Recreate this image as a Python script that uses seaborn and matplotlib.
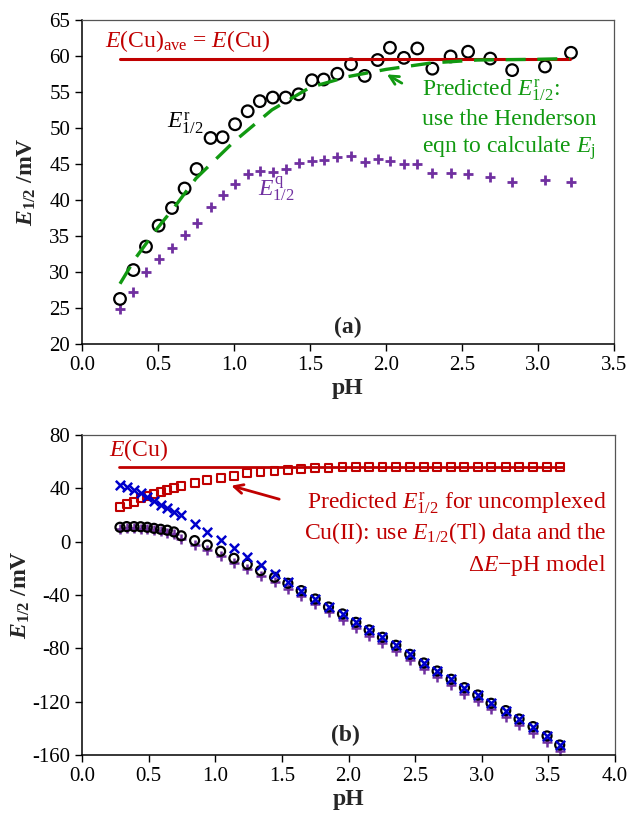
import matplotlib
matplotlib.use("Agg")
import matplotlib.pyplot as plt
import seaborn as sns
import numpy as np
import pandas as pd

# ---------------- Panel (a) data ----------------
ph_a = [0.25, 0.338, 0.421, 0.504, 0.592, 0.675, 0.754, 0.846, 0.925, 1.007,
        1.09, 1.17, 1.255, 1.34, 1.425, 1.513, 1.59, 1.68, 1.77, 1.86,
        1.945, 2.026, 2.118, 2.206, 2.305, 2.425, 2.54, 2.686, 2.83, 3.046, 3.217]
er_a = [26.3, 30.3, 33.55, 36.45, 38.9, 41.6, 44.3, 48.6, 48.7, 50.5,
        52.3, 53.7, 54.2, 54.2, 54.65, 56.6, 56.7, 57.5, 58.8, 57.2,
        59.4, 61.1, 59.7, 61.0, 58.2, 59.9, 60.55, 59.6, 58.0, 58.5, 60.4]
eq_a = [24.9, 27.2, 30.0, 31.9, 33.3, 35.1, 36.8, 39.0, 40.7, 42.2,
        43.6, 44.0, 43.9, 44.35, 45.1, 45.45, 45.5, 45.9, 46.05, 45.3,
        45.7, 45.45, 44.95, 44.95, 43.7, 43.8, 43.6, 43.25, 42.55, 42.8, 42.55]
ecu_a_ph = [0.25, 3.21]
ecu_a_val = [59.6, 59.6]
pred_a_ph = [0.25, 0.35, 0.5, 0.6, 0.75, 1.0, 1.25, 1.5, 1.75, 2.0, 2.3, 2.6, 3.0, 3.21]
pred_a_val = [28.4, 31.9, 36.2, 38.8, 43.0, 48.1, 52.5, 55.6, 57.1, 58.1, 59.0, 59.4, 59.5, 59.6]

# ---------------- Panel (b) data ----------------
ph_b = [0.285, 0.335, 0.39, 0.44, 0.49, 0.54, 0.59, 0.64, 0.69, 0.745,
        0.845, 0.94, 1.04, 1.14, 1.24, 1.34, 1.445, 1.545, 1.645, 1.75,
        1.85, 1.955, 2.055, 2.155, 2.255, 2.355, 2.46, 2.565, 2.665, 2.77,
        2.87, 2.97, 3.07, 3.18, 3.28, 3.385, 3.49, 3.585]
er_b = [10.8, 11.3, 11.3, 11.2, 10.8, 10.0, 9.3, 8.6, 7.3, 4.4,
        0.8, -2.5, -7.2, -12.5, -17.0, -21.7, -26.7, -31.2, -36.7, -43.0,
        -49.0, -54.2, -60.5, -66.2, -71.7, -77.7, -84.5, -91.0, -97.0, -103.2,
        -109.5, -115.0, -121.2, -126.7, -133.0, -138.7, -145.7, -152.5]
eq_b = [9.5, 10.0, 10.0, 9.8, 9.3, 8.5, 7.7, 6.8, 5.5, 2.3,
        -2.5, -6.0, -10.5, -16.0, -20.5, -25.5, -30.5, -35.2, -40.7, -47.0,
        -53.0, -58.5, -64.8, -70.5, -76.0, -82.0, -89.0, -95.5, -101.5, -107.7,
        -114.0, -119.5, -125.7, -131.2, -137.5, -143.2, -150.2, -157.0]
etl_b = [42.5, 40.8, 38.5, 36.3, 33.5, 30.8, 27.8, 25.0, 22.5, 19.8,
         13.0, 7.5, 1.3, -5.0, -11.2, -17.5, -24.0, -30.5, -37.0, -42.8,
         -49.0, -54.2, -60.5, -66.2, -71.7, -77.7, -84.5, -91.0, -97.0, -103.2,
         -109.5, -115.0, -121.2, -126.7, -133.0, -138.7, -145.7, -152.5]
pred_b = [25.8, 28.3, 30.0, 32.5, 34.3, 35.8, 37.5, 38.8, 40.0, 41.8,
          43.8, 46.0, 48.0, 49.5, 51.3, 52.5, 53.3, 54.0, 54.5, 55.0,
          55.3, 55.7, 56.0, 56.0, 56.0, 56.2, 56.2, 56.2, 56.2, 56.2,
          56.2, 56.2, 56.2, 56.2, 56.2, 56.2, 56.2, 56.2]
ecu_b_ph = [0.28, 3.61]
ecu_b_val = [56.25, 56.25]

xticks_a = [0.0, 0.5, 1.0, 1.5, 2.0, 2.5, 3.0, 3.5]
yticks_a = [20, 25, 30, 35, 40, 45, 50, 55, 60, 65]
xticks_b = [0.0, 0.5, 1.0, 1.5, 2.0, 2.5, 3.0, 3.5, 4.0]
yticks_b = [-160, -120, -80, -40, 0, 40, 80]

RED = "#C00000"
GREEN = "#119911"
PURPLE = "#7030A0"
BLUE = "#0000CC"

sns.set_theme(style="ticks")
plt.rcParams["font.family"] = ["Liberation Serif", "DejaVu Serif"]
plt.rcParams["mathtext.fontset"] = "custom"
plt.rcParams["mathtext.rm"] = "Liberation Serif"
plt.rcParams["mathtext.it"] = "Liberation Serif:italic"
plt.rcParams["mathtext.bf"] = "Liberation Serif:bold"
plt.rcParams["mathtext.bfit"] = "Liberation Serif:bold:italic"
plt.rcParams["mathtext.sf"] = "Liberation Serif"
plt.rcParams["xtick.direction"] = "out"
plt.rcParams["ytick.direction"] = "out"

fig = plt.figure(figsize=(6.29, 8.23), dpi=100)
W, H = 629, 823
ax1 = fig.add_axes([82 / W, 1 - 344.4 / H, (614 - 82) / W, (344.4 - 19.6) / H])
ax2 = fig.add_axes([82 / W, 1 - 755 / H, (615 - 82) / W, (755 - 435) / H])

TICKFS = 15
TXTFS = 17

def style_axes(ax):
    for s in ["left", "bottom"]:
        ax.spines[s].set_color("black")
        ax.spines[s].set_linewidth(1.1)
    for s in ["top", "right"]:
        ax.spines[s].set_color("#555555")
        ax.spines[s].set_linewidth(0.9)
        ax.spines[s].set_visible(True)
    ax.tick_params(axis="both", labelsize=TICKFS, length=5, width=1, colors="black")
    ax.grid(False)

# ---------- Panel (a) ----------
sns.lineplot(x=ecu_a_ph, y=ecu_a_val, ax=ax1, color=RED, lw=2.2)
sns.lineplot(x=pred_a_ph, y=pred_a_val, ax=ax1, color=GREEN, lw=2.4,
             dashes=False, linestyle=(0, (6, 3.5)))
sns.scatterplot(x=ph_a, y=eq_a, ax=ax1, marker="+", s=55, color=PURPLE, linewidth=2.0)
sns.scatterplot(x=ph_a, y=er_a, ax=ax1, marker="o", s=70, facecolors="none",
                edgecolor="black", linewidth=1.6)

ax1.set_xlim(0, 3.5)
ax1.set_ylim(20, 65)
ax1.set_xticks(xticks_a)
ax1.set_xticklabels([f"{v:.1f}" for v in xticks_a])
ax1.set_yticks(yticks_a)
ax1.set_yticklabels([str(v) for v in yticks_a])
style_axes(ax1)
ax1.set_xlabel("pH", fontsize=17, fontweight="bold", labelpad=2)
ax1.set_ylabel(r"$\mathbfit{E}_{\mathbf{1/2}}$ /mV", fontsize=17, fontweight="bold", labelpad=8)

ax1.text(0.15, 62.0, r"$E$(Cu)$_{\mathrm{ave}}$ = $E$(Cu)", color=RED, fontsize=TXTFS,
         ha="left", va="center")
ax1.text(0.56, 50.6, r"$E^{\mathrm{r}}_{1/2}$", color="black", fontsize=TXTFS,
         ha="left", va="center")
ax1.text(1.16, 41.5, r"$E^{\mathrm{q}}_{1/2}$", color=PURPLE, fontsize=TXTFS,
         ha="left", va="center")
ax1.text(2.235, 55.2, r"Predicted $E^{\mathrm{r}}_{1/2}$:", color=GREEN, fontsize=TXTFS,
         ha="left", va="center")
ax1.text(2.235, 51.1, "use the Henderson", color=GREEN, fontsize=TXTFS,
         ha="left", va="center")
ax1.text(2.235, 47.2, r"eqn to calculate $E_{\mathrm{j}}$", color=GREEN, fontsize=TXTFS,
         ha="left", va="center")
ax1.annotate("", xy=(1.99, 57.6), xytext=(2.12, 56.0),
             arrowprops=dict(arrowstyle="->", color=GREEN, lw=2, mutation_scale=16))
ax1.text(1.75, 22.3, "(a)", fontsize=17, fontweight="bold", ha="center", va="center")

# ---------- Panel (b) ----------
sns.lineplot(x=ecu_b_ph, y=ecu_b_val, ax=ax2, color=RED, lw=2.0)
sns.scatterplot(x=ph_b, y=pred_b, ax=ax2, marker="s", s=32, facecolors="none",
                edgecolor=RED, linewidth=1.5)
sns.scatterplot(x=ph_b, y=eq_b, ax=ax2, marker="+", s=45, color=PURPLE, linewidth=1.8)
sns.scatterplot(x=ph_b, y=er_b, ax=ax2, marker="o", s=42, facecolors="none",
                edgecolor="black", linewidth=1.6)
sns.scatterplot(x=ph_b, y=etl_b, ax=ax2, marker="x", s=45, color=BLUE, linewidth=1.8)

ax2.set_xlim(0, 4.0)
ax2.set_ylim(-160, 80)
ax2.set_xticks(xticks_b)
ax2.set_xticklabels([f"{v:.1f}" for v in xticks_b])
ax2.set_yticks(yticks_b)
ax2.set_yticklabels([str(v) for v in yticks_b])
style_axes(ax2)
ax2.set_xlabel("pH", fontsize=17, fontweight="bold", labelpad=2)
ax2.set_ylabel(r"$\mathbfit{E}_{\mathbf{1/2}}$ /mV", fontsize=17, fontweight="bold", labelpad=0)

ax2.text(0.2, 69.0, r"$E$(Cu)", color=RED, fontsize=TXTFS, ha="left", va="center")
ax2.text(3.935, 28.8, r"Predicted $E^{\mathrm{r}}_{1/2}$ for uncomplexed", color=RED,
         fontsize=TXTFS, ha="right", va="center")
ax2.text(3.935, 6.3, r"Cu(II): use $E_{1/2}$(Tl) data and the", color=RED,
         fontsize=TXTFS, ha="right", va="center")
ax2.text(3.935, -17.5, r"$\Delta E$$-$pH model", color=RED,
         fontsize=TXTFS, ha="right", va="center")
ax2.annotate("", xy=(1.10, 42.5), xytext=(1.50, 31.3),
             arrowprops=dict(arrowstyle="->", color=RED, lw=2, mutation_scale=16))
ax2.text(1.98, -145, "(b)", fontsize=17, fontweight="bold", ha="center", va="center")

fig.savefig("out.png", dpi=100)
